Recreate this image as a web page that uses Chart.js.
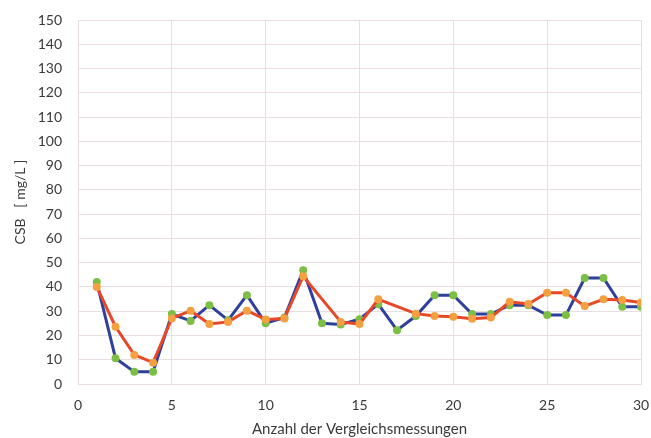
<!DOCTYPE html>
<html>
<head>
<meta charset="utf-8">
<script src="https://cdn.jsdelivr.net/npm/chart.js@4/dist/chart.umd.min.js"></script>
<style>
    html, body { margin: 0; padding: 0; background: #fff; }
    #wrap { width: 651px; height: 438px; }
</style>
</head>
<body>
<div id="wrap"><canvas id="graphique" width="651" height="438"></canvas></div>
<script>
// Données
const messungen = [1, 2, 3, 4, 5, 6, 7, 8, 9, 10, 11, 12, 13, 14, 15, 16, 17, 18, 19, 20, 21, 22, 23, 24, 25, 26, 27, 28, 29, 30];
const serieBlau = [42, 10.6, 5, 5, 28.8, 26, 32.5, 26.3, 36.6, 25, 27.4, 46.9, 25, 24.5, 26.7, 32.9, 22.2, 28, 36.6, 36.6, 28.8, 28.8, 32.5, 32.5, 28.4, 28.4, 43.7, 43.7, 31.8, 31.8];
const serieRot = [40, 23.6, 12, 8.8, 27, 30.2, 24.7, 25.6, 30.2, 26.6, 27, 44.4, null, 25.6, 24.7, 34.9, null, 29, 28, 27.7, 26.9, 27.4, 33.9, 33, 37.6, 37.6, 32.1, 34.9, 34.6, 33.6];
const xTicks = [0, 5, 10, 15, 20, 25, 30];
const yTicks = [0, 10, 20, 30, 40, 50, 60, 70, 80, 90, 100, 110, 120, 130, 140, 150];

const toPoints = vals => messungen.map((m, i) => ({ x: m, y: vals[i] }));

const gridColor = "#eadfe0";
const textColor = "#3a3a3a";
const fontFamily = "Lato, 'Open Sans', sans-serif";

new Chart(document.getElementById("graphique"), {
    type: "line",
    data: {
        datasets: [
            {
                label: "Rot",
                data: toPoints(serieRot),
                borderColor: "#e8482a",
                borderWidth: 3,
                pointBackgroundColor: "#f5a040",
                pointBorderColor: "#f5a040",
                pointRadius: 2.5,
                spanGaps: true,
                tension: 0,
                order: 1
            },
            {
                label: "Blau",
                data: toPoints(serieBlau),
                borderColor: "#2f3f9c",
                borderWidth: 3,
                pointBackgroundColor: "#7cbf45",
                pointBorderColor: "#7cbf45",
                pointRadius: 2.5,
                tension: 0,
                order: 2
            }
        ]
    },
    options: {
        responsive: false,
        animation: false,
        layout: { padding: { top: 20, right: 10, left: 0, bottom: 0 } },
        plugins: { legend: { display: false }, tooltip: { enabled: false } },
        scales: {
            x: {
                type: "linear",
                min: 0,
                max: 30,
                afterBuildTicks: s => { s.ticks = xTicks.map(v => ({ value: v })); },
                afterFit: s => { s.height = 54; s.paddingRight = 0; s.paddingLeft = 0; },
                grid: { color: gridColor, drawTicks: false },
                border: { color: gridColor },
                ticks: { color: textColor, font: { family: fontFamily, size: 14 }, padding: 13 },
                title: {
                    display: true,
                    text: "Anzahl der Vergleichsmessungen",
                    color: textColor,
                    font: { family: fontFamily, size: 15 },
                    padding: { top: 0, bottom: 0 }
                }
            },
            y: {
                min: 0,
                max: 150,
                afterBuildTicks: s => { s.ticks = yTicks.map(v => ({ value: v })); },
                afterFit: s => { s.width = 78; s.paddingTop = 0; s.paddingBottom = 0; },
                grid: { color: gridColor, drawTicks: false },
                border: { color: gridColor },
                ticks: { color: textColor, font: { family: fontFamily, size: 14 }, padding: 16 },
                title: {
                    display: true,
                    text: "CSB   [ mg/L ]",
                    color: textColor,
                    font: { family: fontFamily, size: 14 },
                    padding: { top: 12, bottom: 0 }
                }
            }
        }
    }
});
</script>
</body>
</html>
